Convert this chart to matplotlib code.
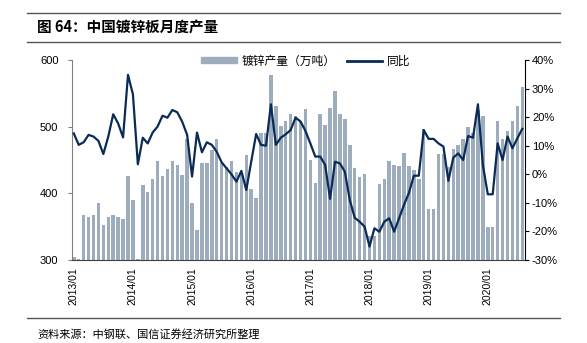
import numpy as np
import matplotlib
matplotlib.use("Agg")
import matplotlib.pyplot as plt
from matplotlib.lines import Line2D
from matplotlib.patches import Patch

plt.rcParams['font.family'] = ['Liberation Sans', 'Noto Sans CJK SC', 'DejaVu Sans']

# 月份 2013/01 - 2020/08
years = list(range(2013, 2021))
months = [f"{y}/{m:02d}" for y in years for m in range(1, 13)][:92]

# 镀锌产量（万吨）
output = [305, 301, 367, 364, 368, 386, 353, 365, 367, 364, 362, 426,
          390, 302, 413, 402, 422, 448, 426, 436, 449, 443, 428, 482,
          386, 345, 445, 446, 465, 482, 445, 439, 448, 432, 431, 458,
          407, 393, 491, 491, 577, 531, 501, 509, 519, 516, 509, 526,
          450, 415, 519, 503, 528, 554, 519, 512, 472, 438, 425, 429,
          336, 336, 414, 421, 448, 442, 441, 461, 441, 435, 422, 497,
          377, 377, 459, 459, 439, 467, 473, 482, 500, 490, 525, 516,
          350, 350, 508, 482, 494, 508, 531, 560]

# 同比 (%)
yoy = [14.3, 10.3, 11.2, 13.8, 13.2, 11.7, 7.1, 13.2, 21.0, 17.8, 12.9, 34.8,
       28.0, 3.5, 12.8, 10.8, 14.6, 16.7, 20.5, 19.8, 22.5, 21.7, 18.4, 13.8,
       -0.8, 14.6, 7.7, 11.2, 10.3, 7.9, 4.2, 2.1, 0.0, -2.6, 1.2, -5.5,
       4.4, 14.1, 10.3, 10.0, 24.5, 10.3, 12.8, 14.0, 15.5, 19.8, 18.5, 15.2,
       10.8, 6.2, 6.2, 3.3, -8.6, 4.4, 3.8, 0.9, -9.0, -15.2, -16.6, -18.3,
       -25.3, -18.9, -20.1, -16.6, -15.4, -20.1, -15.4, -10.7, -6.5, -0.5, -0.5, 15.5,
       12.4, 12.4, 10.8, 9.7, -2.3, 5.8, 7.3, 5.0, 13.4, 12.8, 24.5, 3.3,
       -7.0, -7.0, 10.8, 5.0, 13.2, 9.1, 12.6, 15.9]

bar_color = '#9DADBD'
line_color = '#0A2B57'

fig = plt.figure(figsize=(5.87, 3.43), dpi=100)
ax = fig.add_axes([72.3/587, 1-260/343, (525-72.3)/587, 200/343])
x = np.arange(len(months))
ax.bar(x, output, width=0.7, color=bar_color, bottom=0, zorder=2)
ax.set_ylim(300, 600)
ax.set_yticks([300, 400, 500, 600])
ax.set_xlim(-0.3, 91.55)
tick_idx = [i for i, m in enumerate(months) if m.endswith('/01')]
ax.set_xticks(tick_idx)
ax.set_xticklabels([months[i] for i in tick_idx], rotation=90, fontsize=7.5, va='top')
ax.tick_params(axis='x', length=0, pad=5)
ax.tick_params(axis='y', labelsize=8, length=3, color='#808080', direction='out', pad=7)
ax.spines['top'].set_visible(False)
ax.spines['right'].set_visible(False)
ax.spines['left'].set_color('#808080')
ax.spines['bottom'].set_color('#404040')

ax2 = ax.twinx()
ax2.plot(x, yoy, color=line_color, lw=1.6, zorder=3)
ax2.set_ylim(-30, 40)
ax2.set_yticks(range(-30, 41, 10))
ax2.set_yticklabels([f"{v}%" for v in range(-30, 41, 10)])
ax2.tick_params(axis='y', labelsize=8, length=3, color='black', direction='out', pad=2)
ax2.spines['top'].set_visible(False)
ax2.spines['left'].set_visible(False)
ax2.spines['bottom'].set_visible(False)
ax2.spines['right'].set_color('black')

handles = [Patch(color=bar_color), Line2D([0], [0], color=line_color, lw=2)]
ax.legend(handles, ['镀锌产量（万吨）', '同比'], loc='center', bbox_to_anchor=(0.516, 0.995),
          ncol=2, frameon=False, handlelength=3.0, handleheight=0.45,
          columnspacing=1.0, handletextpad=0.4, prop={'family': ['Noto Sans CJK SC'], 'size': 8.5})

# 标题与来源
fig.add_artist(Line2D([27/587, 560/587], [1-13/343, 1-13/343], color='#555555', lw=1))
fig.add_artist(Line2D([27/587, 560/587], [1-42/343, 1-42/343], color='#555555', lw=1))
fig.text(37/587, 1-27/343, '图 64：中国镀锌板月度产量', fontsize=10.5, fontweight='bold',
         va='center', family=['Noto Sans CJK SC'])
fig.add_artist(Line2D([27/587, 560/587], [1-318/343, 1-318/343], color='#555555', lw=1))
fig.text(37/587, 1-334/343, '资料来源：中钢联、国信证券经济研究所整理', fontsize=8,
         va='center', family=['Noto Sans CJK SC'])

fig.savefig('out.png', dpi=100)
